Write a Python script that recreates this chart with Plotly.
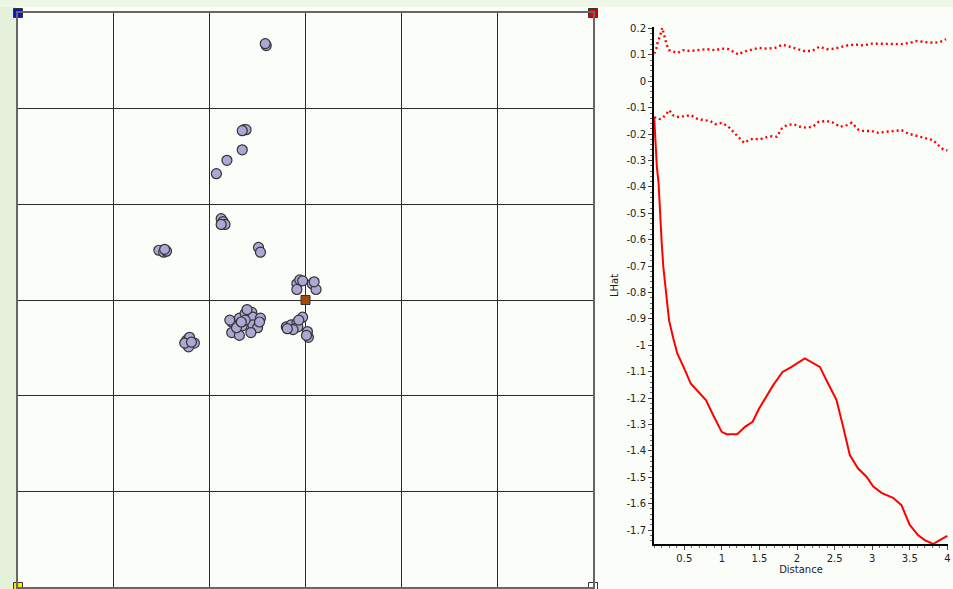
import plotly.graph_objects as go

# ---- Event locations on the study grid (map units, origin at centre) ----
event_x = [-0.41, -0.42, -0.64, -0.62, -0.66, -0.66, -0.82, -0.93,
           -0.88, -0.86, -0.84, -0.88,
           -1.53, -1.48, -1.45, -1.47,
           -0.49, -0.47,
           -0.09, -0.06, -0.03, -0.09, 0.07, 0.11, 0.09,
           -0.77, -0.77, -0.69, -0.66, -0.63, -0.56, -0.55, -0.55, -0.50,
           -0.47, -0.69, -0.57, -0.72, -0.63, -0.61, -0.79, -0.67, -0.48,
           -0.20, -0.15, -0.09, -0.08, -0.03, -0.13, -0.19, -0.07,
           0.02, 0.03, 0.01,
           -1.24, -1.21, -1.16, -1.22, -1.26, -1.19]
event_y = [2.66, 2.68, 1.78, 1.78, 1.77, 1.57, 1.46, 1.32,
           0.85, 0.82, 0.79, 0.79,
           0.52, 0.50, 0.51, 0.53,
           0.55, 0.50,
           0.17, 0.21, 0.20, 0.11, 0.17, 0.11, 0.19,
           -0.23, -0.34, -0.19, -0.27, -0.14, -0.13, -0.18, -0.26, -0.29,
           -0.19, -0.37, -0.34, -0.29, -0.21, -0.10, -0.21, -0.23, -0.23,
           -0.28, -0.26, -0.24, -0.28, -0.18, -0.31, -0.30, -0.21,
           -0.33, -0.39, -0.37,
           -0.42, -0.39, -0.45, -0.49, -0.45, -0.44]

# Corner / centre control markers
anchor_x = [-3, 3, -3, 3, 0]
anchor_y = [3, 3, -3, -3, 0]
anchor_colors = ["#0a14c8", "#e00000", "#f2f000", "#ffffff", "#a44a08"]

# ---- Ripley's L-hat function with simulation envelope ----
lhat_d = [0.1, 0.113, 0.135, 0.158, 0.168, 0.177, 0.2, 0.221, 0.257, 0.297,
          0.354, 0.407, 0.509, 0.585, 0.686, 0.788, 0.885, 0.997, 1.063, 1.204,
          1.307, 1.409, 1.497, 1.55, 1.683, 1.807, 1.927, 2.104, 2.214, 2.303,
          2.413, 2.525, 2.613, 2.702, 2.812, 2.924, 3.011, 3.123, 3.277, 3.389,
          3.499, 3.609, 3.698, 3.809, 3.898, 4.0]
lhat_v = [-0.14, -0.223, -0.324, -0.387, -0.45, -0.501, -0.614, -0.703, -0.791, -0.905,
          -0.974, -1.031, -1.094, -1.145, -1.176, -1.208, -1.265, -1.328, -1.337, -1.337,
          -1.309, -1.29, -1.239, -1.214, -1.151, -1.101, -1.082, -1.05, -1.069, -1.082,
          -1.145, -1.208, -1.309, -1.416, -1.467, -1.498, -1.534, -1.559, -1.578, -1.606,
          -1.681, -1.719, -1.738, -1.753, -1.738, -1.722]

upper_d = [0.1, 0.127, 0.144, 0.171, 0.193, 0.206, 0.224, 0.242, 0.268, 0.3,
           0.379, 0.41, 0.481, 0.57, 0.667, 0.8, 0.911, 1.0, 1.088, 1.19,
           1.22, 1.287, 1.376, 1.487, 1.597, 1.708, 1.81, 1.885, 1.996, 2.094,
           2.195, 2.297, 2.395, 2.505, 2.594, 2.683, 2.793, 2.882, 2.993, 3.104,
           3.192, 3.303, 3.391, 3.502, 3.591, 3.702, 3.812, 3.901, 3.981]
upper_v = [0.105, 0.124, 0.146, 0.166, 0.187, 0.203, 0.181, 0.158, 0.137, 0.118,
           0.112, 0.108, 0.118, 0.115, 0.118, 0.122, 0.118, 0.124, 0.122, 0.108,
           0.102, 0.112, 0.12, 0.127, 0.124, 0.127, 0.139, 0.133, 0.124, 0.115,
           0.115, 0.131, 0.122, 0.124, 0.131, 0.137, 0.139, 0.136, 0.143, 0.143,
           0.141, 0.141, 0.141, 0.146, 0.153, 0.149, 0.146, 0.149, 0.16]

lower_d = [0.1, 0.135, 0.18, 0.215, 0.255, 0.3, 0.348, 0.401, 0.49, 0.587,
           0.667, 0.756, 0.844, 0.911, 1.0, 1.088, 1.176, 1.243, 1.296, 1.354,
           1.42, 1.5, 1.575, 1.664, 1.73, 1.797, 1.863, 1.952, 2.04, 2.129,
           2.218, 2.284, 2.395, 2.483, 2.572, 2.661, 2.727, 2.816, 2.882, 2.993,
           3.081, 3.192, 3.281, 3.391, 3.48, 3.569, 3.657, 3.746, 3.812, 3.879,
           3.945, 4.0]
lower_v = [-0.135, -0.141, -0.143, -0.137, -0.126, -0.109, -0.128, -0.135, -0.132, -0.128,
           -0.141, -0.147, -0.15, -0.162, -0.157, -0.172, -0.198, -0.217, -0.233, -0.223,
           -0.217, -0.22, -0.213, -0.208, -0.21, -0.179, -0.166, -0.162, -0.172, -0.176,
           -0.17, -0.154, -0.15, -0.157, -0.172, -0.166, -0.157, -0.183, -0.188, -0.188,
           -0.195, -0.191, -0.188, -0.185, -0.198, -0.204, -0.21, -0.217, -0.223, -0.242,
           -0.258, -0.262]

y_tick_vals = [0.2, 0.1, 0, -0.1, -0.2, -0.3, -0.4, -0.5, -0.6, -0.7, -0.8, -0.9,
               -1, -1.1, -1.2, -1.3, -1.4, -1.5, -1.6, -1.7]
y_tick_text = ["0.2", "0.1", "0", "-0.1", "-0.2", "-0.3", "-0.4", "-0.5", "-0.6", "-0.7",
               "-0.8", "-0.9", "-1", "-1.1", "-1.2", "-1.3", "-1.4", "-1.5", "-1.6", "-1.7"]
x_tick_vals = [0.5, 1, 1.5, 2, 2.5, 3, 3.5, 4]
x_tick_text = ["0.5", "1", "1.5", "2", "2.5", "3", "3.5", "4"]

W, H = 953, 589
FONT = "DejaVu Sans"
BG = "#fbfdf9"

fig = go.Figure()

# Point map
fig.add_trace(go.Scatter(
    x=event_x, y=event_y, mode="markers", xaxis="x", yaxis="y",
    marker=dict(size=10, color="#aca8d4", line=dict(color="#333333", width=1.2)),
    showlegend=False, hoverinfo="skip"))
fig.add_trace(go.Scatter(
    x=anchor_x, y=anchor_y, mode="markers", xaxis="x", yaxis="y",
    marker=dict(size=9, symbol="square", color=anchor_colors,
                line=dict(color="#333333", width=1)),
    cliponaxis=False, showlegend=False, hoverinfo="skip"))

# L-hat curves
fig.add_trace(go.Scatter(
    x=upper_d, y=upper_v, mode="lines", xaxis="x2", yaxis="y2",
    line=dict(color="#ff0000", width=2.4, dash="2px,3px"),
    showlegend=False, hoverinfo="skip"))
fig.add_trace(go.Scatter(
    x=lower_d, y=lower_v, mode="lines", xaxis="x2", yaxis="y2",
    line=dict(color="#ff0000", width=2.4, dash="2px,3px"),
    showlegend=False, hoverinfo="skip"))
fig.add_trace(go.Scatter(
    x=lhat_d, y=lhat_v, mode="lines", xaxis="x2", yaxis="y2",
    line=dict(color="#ff0000", width=2),
    cliponaxis=False, showlegend=False, hoverinfo="skip"))

grid_axis = dict(range=[-3, 3], dtick=1, tick0=-3, showticklabels=False,
                 showgrid=True, gridcolor="#2a2a2a", gridwidth=1.3,
                 zeroline=True, zerolinecolor="#2a2a2a", zerolinewidth=1.3,
                 showline=True, mirror=True, linecolor="#666666", linewidth=2,
                 ticks="", fixedrange=True, automargin=False)

fig.update_layout(
    template="none",
    width=W, height=H,
    margin=dict(l=0, r=0, t=0, b=0),
    paper_bgcolor=BG, plot_bgcolor=BG,
    font=dict(family=FONT, size=10, color="#222222"),
    xaxis=dict(domain=[18 / W, 593 / W], anchor="y", **grid_axis),
    yaxis=dict(domain=[2 / H, 576 / H], anchor="x", **grid_axis),
    xaxis2=dict(domain=[654 / W, 948 / W], anchor="y2", range=[0.097, 4.008],
                automargin=False,
                tickvals=x_tick_vals, ticktext=x_tick_text,
                ticks="outside", ticklen=4, tickwidth=1, tickcolor="#444444",
                minor=dict(dtick=0.1, tick0=0, ticks="outside", ticklen=2,
                           tickcolor="#666666"),
                showgrid=False, zeroline=False,
                showline=True, linecolor="#000000", linewidth=2,
                tickfont=dict(family=FONT, size=10, color="#222222"),
                title=dict(text="Distance", standoff=2,
                           font=dict(family=FONT, size=10, color="#222222"))),
    yaxis2=dict(domain=[45 / H, 562 / H], anchor="x2", range=[-1.753, 0.206],
                automargin=False,
                tickvals=y_tick_vals, ticktext=y_tick_text,
                ticks="outside", ticklen=4, tickwidth=1, tickcolor="#444444",
                minor=dict(dtick=0.02, tick0=0, ticks="outside", ticklen=2,
                           tickcolor="#666666"),
                showgrid=False, zeroline=False,
                showline=True, linecolor="#000000", linewidth=2,
                tickfont=dict(family=FONT, size=10, color="#222222"),
                title=dict(text="LHat", standoff=6,
                           font=dict(family=FONT, size=10, color="#222222"))),
    shapes=[
        # green frame strips along the left and top edges
        dict(type="rect", xref="paper", yref="paper", x0=0, x1=16 / W, y0=0, y1=1,
             fillcolor="#e5f2db", line=dict(width=0), layer="below"),
        dict(type="rect", xref="paper", yref="paper", x0=0, x1=1, y0=1 - 7 / H, y1=1,
             fillcolor="#eef7e7", line=dict(width=0), layer="below"),
    ],
)

fig.write_html("out.html")
